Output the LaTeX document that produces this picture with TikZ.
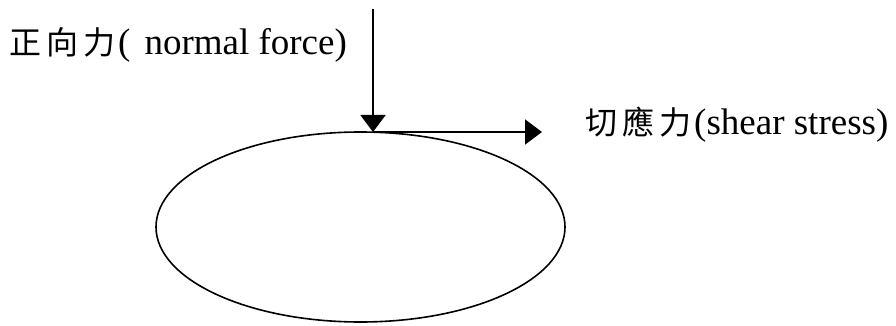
\documentclass[tikz,border=0pt]{standalone}
\usepackage{fontspec}
\setmainfont{Liberation Serif}
\newfontfamily\cjk{Noto Sans CJK TC}
\newcommand{\hz}[1]{\makebox[37pt]{\cjk\fontsize{32}{38}\selectfont #1}}
\usetikzlibrary{arrows.meta,shapes.geometric}
\begin{document}
\begin{tikzpicture}[x=1pt,y=-1pt,
  force/.style={line width=1.6pt,-{Triangle[width=25pt,length=17pt]}},
  lbl/.style={inner sep=0pt,anchor=base west,font=\fontsize{37}{44}\selectfont}]
\useasboundingbox (0,0) rectangle (896,326);
\node[draw,line width=1.6pt,ellipse,minimum width=409pt,minimum height=190pt,inner sep=0pt] (body) at (360.5,227) {};
\coordinate (top) at (373,9);
\coordinate (contact) at (373,132);
\coordinate (tip) at (542,132);
\draw[force] (top) -- (contact);
\draw[force] (contact) -- (tip);
\node[lbl] (normal) at (7,55) {\hz{正}\hz{向}\hz{力}(\hspace*{14pt}normal force)};
\node[lbl] (shear) at (583,135) {\hz{切}\hz{應}\hz{力}(shear stress)};
\end{tikzpicture}
\end{document}
